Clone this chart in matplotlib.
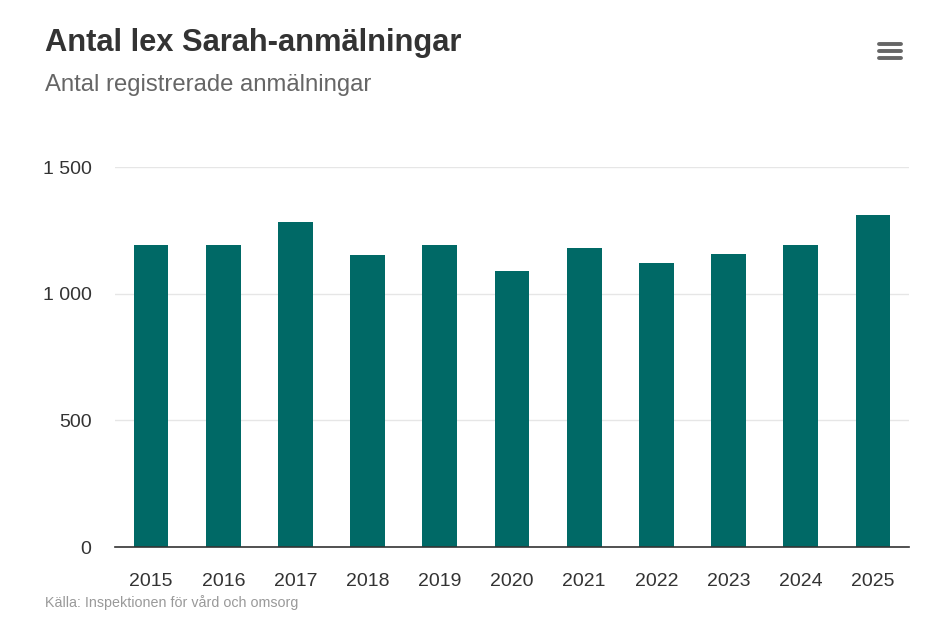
import matplotlib.pyplot as plt
from matplotlib.lines import Line2D

years = ['2015', '2016', '2017', '2018', '2019', '2020', '2021', '2022', '2023', '2024', '2025']
reports = [1192, 1192, 1283, 1152, 1192, 1092, 1180, 1121, 1157, 1192, 1311]
yticks = [0, 500, 1000, 1500]
ylabels = ['0', '500', '1 000', '1 500']

plt.rcParams['font.family'] = ['Liberation Sans', 'DejaVu Sans']

fig = plt.figure(figsize=(9.42, 6.25), dpi=100)
W, H = 942, 625
ax = fig.add_axes([115 / W, (H - 547) / H, (909 - 115) / W, (547 - 167.3) / H])

ax.bar(years, reports, width=0.48, color='#006966', zorder=3)
ax.set_xlim(-0.5, len(years) - 0.5)
ax.set_ylim(0, 1500)
ax.set_yticks(yticks)
ax.set_yticklabels(ylabels)
ax.grid(axis='y', color='#e6e6e6', linewidth=1, zorder=0)
for s in ['top', 'right', 'left']:
    ax.spines[s].set_visible(False)
ax.spines['bottom'].set_color('#333333')
ax.spines['bottom'].set_linewidth(1.2)
ax.spines['bottom'].set_zorder(4)
ax.tick_params(axis='both', length=0, labelsize=14, labelcolor='#333333')
ax.tick_params(axis='x', pad=19)
ax.tick_params(axis='y', pad=17)

fig.text(45 / W, 1 - 43 / H, 'Antal lex Sarah-anmälningar', fontsize=22.2, fontweight='bold',
         color='#333333', va='center', ha='left')
fig.text(45 / W, 1 - 85 / H, 'Antal registrerade anmälningar', fontsize=17.2,
         color='#666666', va='center', ha='left')
fig.text(45 / W, 1 - 603 / H, 'Källa: Inspektionen för vård och omsorg', fontsize=10.3,
         color='#999999', va='center', ha='left')

# hamburger menu icon
for yy in [43.5, 50.5, 58]:
    fig.add_artist(Line2D([879 / W, 901 / W], [1 - yy / H, 1 - yy / H], color='#666666',
                          linewidth=2.8, solid_capstyle='round'))

fig.savefig('out.png', dpi=100)
